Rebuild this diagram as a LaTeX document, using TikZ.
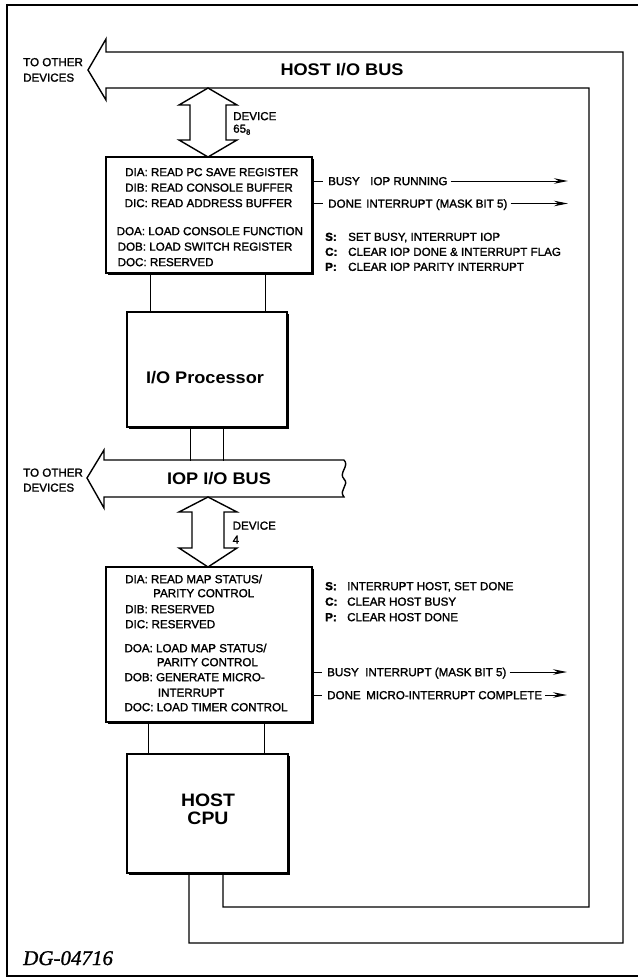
\documentclass[tikz,border=0pt]{standalone}
\usepackage{fontspec}
\setmainfont{Liberation Sans}
\newfontfamily\medf[FakeBold=1.6]{Liberation Sans}
\newfontfamily\bigf[FakeStretch=1.08]{Liberation Sans}
\newfontfamily\dgf[FakeBold=1.2]{Liberation Serif}
\usetikzlibrary{arrows.meta,shadows}
\tikzset{
  txt/.style={inner sep=0pt, anchor=west, text height=8.3pt, text depth=0pt, font=\medf\fontsize{11.6}{13}\selectfont},
  txtb/.style={txt, font=\medf\bfseries\fontsize{11.6}{13}\selectfont},
  ttl/.style={inner sep=0pt, anchor=base, font=\bigf\bfseries\fontsize{16.8}{18}\selectfont},
  cputxt/.style={inner sep=0pt, anchor=base, font=\bigf\bfseries\fontsize{18}{18}\selectfont},
  regbox/.style={draw, line width=1.2pt, fill=white, inner sep=0pt,
    drop shadow={shadow xshift=1.8pt, shadow yshift=-1.8pt, opacity=1, fill=black}},
  busline/.style={line width=1.4pt, line join=miter},
  wire/.style={line width=1.2pt},
  tick/.style={line width=1pt, shorten >=5pt},
  sig/.style={line width=1pt, -{Stealth[length=14pt,width=5.5pt]}, shorten <=3pt},
}
\begin{document}
\begin{tikzpicture}[x=1pt,y=-1pt]
\useasboundingbox (0,0) rectangle (637,979);
% frame
\draw[line width=2.8pt] (7,5) -- (645,5);
\draw[line width=2.8pt] (7,976) -- (645,976);
\draw[line width=1.8pt] (7,4) -- (7,977);

% boxes
\node[regbox, minimum width=206pt, minimum height=116pt] (box1) at (209,215) {};
\node[regbox, minimum width=160pt, minimum height=115pt] (iop) at (207,369.5) {};
\node[regbox, minimum width=206pt, minimum height=155pt] (box2) at (209,644.5) {};
\node[regbox, minimum width=161pt, minimum height=119pt] (cpu) at (207.5,813.5) {};

% bus coordinates
\coordinate (hbTR) at (623,52);
\coordinate (hbTL) at (106,52);
\coordinate (hbHT) at (106,39);
\coordinate (hbTip) at (88,70);
\coordinate (hbHB) at (106,100);
\coordinate (hbBL) at (106,88);
\coordinate (hbBR) at (589,88);
\coordinate (inBR) at (589,907);
\coordinate (outBR) at (623,943);

% host bus with loops to the CPU
\draw[busline] ([xshift=-18.5pt]cpu.south) |- (outBR) -- (hbTR) -- (hbTL) -- (hbHT) -- (hbTip)
  -- (hbHB) -- (hbBL) -- (hbBR) -- (inBR) -| ([xshift=15.5pt]cpu.south);

% IOP bus
\coordinate (ibTR) at (344,460);
\coordinate (ibBR) at (344,497);
\draw[busline] (ibTR) -- (104,460) -- (104,450) -- (87,478) -- (104,508) -- (104,497) -- (ibBR)
  .. controls (338,490) and (350,485) .. (344,479) .. controls (338,473) and (350,466) .. (ibTR);

% device arrows
\draw[busline, fill=white] (208,88) -- (237,105) -- (226,105) -- (226,140) -- (237,140) -- (208,157)
  -- (179,140) -- (190,140) -- (190,105) -- (179,105) -- cycle;
\draw[busline, fill=white] (208,497) -- (237,512) -- (224,512) -- (224,548) -- (237,548) -- (208,567)
  -- (179,548) -- (192,548) -- (192,512) -- (179,512) -- cycle;

% wires between boxes
\draw[wire] ([xshift=45pt]box1.south west) -- ([xshift=24pt]iop.north west);
\draw[wire] ([xshift=160pt]box1.south west) -- ([xshift=139pt]iop.north west);
\draw[wire] ([xshift=64pt]iop.south west) -- ++(0,33);
\draw[wire] ([xshift=97pt]iop.south west) -- ++(0,33);
\draw[wire] ([xshift=43pt]box2.south west) -- ([xshift=22pt]cpu.north west);
\draw[wire] ([xshift=159pt]box2.south west) -- ([xshift=138pt]cpu.north west);

% titles
\node[ttl] (hbt) at (342,76) {HOST I/O BUS};
\node[ttl] (ibt) at (219,484.5) {IOP I/O BUS};
\node[ttl] (iopt) at (205,383) {I/O Processor};
\node[cputxt] (cpu1) at (208,806.5) {HOST};
\node[cputxt] (cpu2) at (208,824.5) {CPU};

% to other devices
\node[txt] (to1a) at (23,62) {TO OTHER};
\node[txt] (to1b) at (23,77.5) {DEVICES};
\node[txt] (to2a) at (23,472.5) {TO OTHER};
\node[txt] (to2b) at (23,487.5) {DEVICES};

% device labels
\node[txt] (dev1) at (233,116) {DEVICE};
\node[txt] (dev1n) at (233,128.5) {65\raisebox{-2pt}{\fontsize{7.5}{8}\selectfont 8}};
\node[txt] (dev2) at (232.5,525.5) {DEVICE};
\node[txt] (dev2n) at (232.5,539.5) {4};

% box1 text
\node[txt] (b1a) at (125,172) {DIA: READ PC SAVE REGISTER};
\node[txt] (b1b) at (125,187.5) {DIB: READ CONSOLE BUFFER};
\node[txt] (b1c) at (124.5,203) {DIC: READ ADDRESS BUFFER};
\node[txt] (b1d) at (116.5,231) {DOA: LOAD CONSOLE FUNCTION};
\node[txt] (b1e) at (117.5,246.5) {DOB: LOAD SWITCH REGISTER};
\node[txt] (b1f) at (117.5,262) {DOC: RESERVED};

% box1 right labels
\node[txt] (b1busy) at (328,181) {BUSY};
\node[txt] (b1run) at (370,181) {IOP RUNNING};
\node[txt] (b1done) at (328,203.5) {DONE};
\node[txt] (b1int) at (366,203.5) {INTERRUPT (MASK BIT 5)};
\coordinate (b1runend) at (568,181);
\coordinate (b1intend) at (568,203.5);
\draw[tick] (box1.east |- b1busy.west) -- (b1busy.west);
\draw[tick] (box1.east |- b1done.west) -- (b1done.west);
\draw[sig] (b1run.east) -- (b1runend);
\draw[sig] (b1int.east) -- (b1intend);
\node[txtb] (b1sk) at (325,236.7) {S:};
\node[txt] (b1s) at (348,236.7) {SET BUSY, INTERRUPT IOP};
\node[txtb] (b1ck) at (325,251.7) {C:};
\node[txt] (b1cc) at (348,251.7) {CLEAR IOP DONE \& INTERRUPT FLAG};
\node[txtb] (b1pk) at (325,266.7) {P:};
\node[txt] (b1p) at (348,266.7) {CLEAR IOP PARITY INTERRUPT};

% box2 text
\node[txt] (b2a) at (125,579) {DIA: READ MAP STATUS/};
\node[txt] (b2a2) at (153,593) {PARITY CONTROL};
\node[txt] (b2b) at (125,609) {DIB: RESERVED};
\node[txt] (b2c) at (125,624) {DIC: RESERVED};
\node[txt] (b2d) at (124.3,648) {DOA: LOAD MAP STATUS/};
\node[txt] (b2d2) at (156.7,662) {PARITY CONTROL};
\node[txt] (b2e) at (124.3,677) {DOB: GENERATE MICRO-};
\node[txt] (b2e2) at (157.7,692.5) {INTERRUPT};
\node[txt] (b2f) at (124.3,707) {DOC: LOAD TIMER CONTROL};

% box2 right labels
\node[txtb] (b2sk) at (325,586) {S:};
\node[txt] (b2s) at (347,586) {INTERRUPT HOST, SET DONE};
\node[txtb] (b2ck) at (325,601.5) {C:};
\node[txt] (b2cc) at (347,601.5) {CLEAR HOST BUSY};
\node[txtb] (b2pk) at (325,617) {P:};
\node[txt] (b2p) at (347,617) {CLEAR HOST DONE};
\node[txt] (b2busy) at (327,672) {BUSY};
\node[txt] (b2int) at (365,672) {INTERRUPT (MASK BIT 5)};
\node[txt] (b2done) at (327,695) {DONE};
\node[txt] (b2mic) at (366,695) {MICRO-INTERRUPT COMPLETE};
\coordinate (b2intend) at (567,672);
\coordinate (b2micend) at (567,695);
\draw[tick] (box2.east |- b2busy.west) -- (b2busy.west);
\draw[tick] (box2.east |- b2done.west) -- (b2done.west);
\draw[sig] (b2int.east) -- (b2intend);
\draw[sig] (b2mic.east) -- (b2micend);

% figure id
\node[inner sep=0pt, anchor=base west, font=\dgf\itshape\fontsize{21}{21}\selectfont] (dg) at (23,965) {DG-04716};
\end{tikzpicture}
\end{document}
